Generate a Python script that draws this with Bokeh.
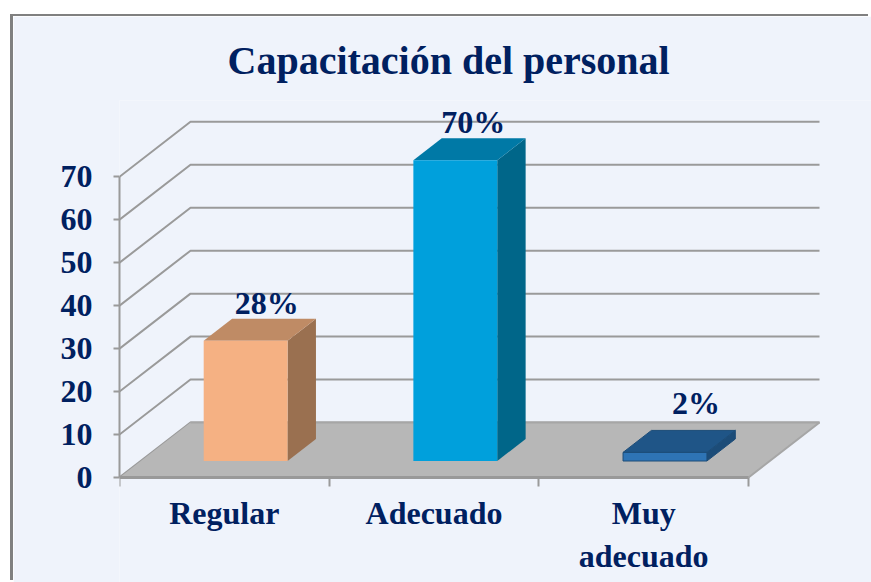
from bokeh.plotting import figure
from bokeh.models import FixedTicker, Range1d, Title
from bokeh.core.properties import value
from bokeh.embed import file_html
from bokeh.resources import INLINE

# ---- data ----
categories = ["Regular", "Adecuado", "Muy\nadecuado"]
values = [28, 70, 2]
labels = ["28%", "70%", "2%"]
y_ticks = [0, 10, 20, 30, 40, 50, 60, 70]
title_text = "Capacitación del personal"

# ---- style ----
BG = "#EFF3FB"
NAVY = "#002060"
GRID = "#9A9A9A"
FLOOR = "#B7B7B7"
FRONT = ["#F5B183", "#00A0DC", "#2E74B5"]
TOP = ["#BF8B65", "#0079A6", "#1F5587"]
SIDE = ["#9A7050", "#006689", "#1C4C78"]
FONT = "Liberation Serif"

# oblique depth of the box, in data units
DX, DY = 0.3386, 12.8
BAR_W = 0.4
D0, D1 = 0.3, 0.7
n = len(categories)

p = figure(
    width=858, height=566, frame_width=752, frame_height=482, output_backend="svg", toolbar_location=None,
    x_range=Range1d(0, 752 / 209.67), y_range=Range1d(-105 / 4.296, 377 / 4.296),
    min_border_left=106, min_border_right=0, min_border_bottom=0, min_border_top=84,
    background_fill_color=BG, border_fill_color=BG, outline_line_color=None,
    margin=(16, 0, 0, 13),
)
p.styles = {"box-shadow": "-3px -2px 0 0 #808080"}
p.grid.visible = False

p.add_layout(Title(text=title_text, align="left", offset=108, standoff=35,
                   text_font=FONT, text_font_size="40px", text_font_style="bold",
                   text_color=NAVY), "above")

# back wall lines
p.multi_line(
    xs=[[0, DX, n + DX] for _ in y_ticks],
    ys=[[t, t + DY, t + DY] for t in y_ticks],
    line_color=GRID, line_width=2,
)
# floor
p.patch([0, n, n + DX, DX], [0, 0, DY, DY], fill_color=FLOOR, line_color=None)
p.line([n, n + DX, DX], [0, DY, DY], line_color="#A6A6A6", line_width=2)

# bars
for i, v in enumerate(values):
    x0 = i + 0.5 - BAR_W / 2 + D0 * DX
    x1 = x0 + BAR_W
    yb = D0 * DY
    yt = yb + v
    dx = (D1 - D0) * DX
    dy = (D1 - D0) * DY
    edge = SIDE[i] if i == 2 else None
    p.patch([x1, x1 + dx, x1 + dx, x1], [yb, yb + dy, yt + dy, yt], fill_color=SIDE[i], line_color=edge)
    p.patch([x0, x1, x1 + dx, x0 + dx], [yt, yt, yt + dy, yt + dy], fill_color=TOP[i], line_color=edge)
    p.patch([x0, x1, x1, x0], [yb, yb, yt, yt], fill_color=FRONT[i], line_color=edge)

# data labels
label_dx = [21, 18, 31]
label_dy = [-16, -16, -27]
for i, v in enumerate(values):
    p.text(
        x=[i + 0.5 + D0 * DX], y=[D1 * DY + v], text=[labels[i]],
        x_offset=[label_dx[i]], y_offset=[label_dy[i]],
        text_font=value(FONT), text_font_size="32px", text_font_style="bold",
        text_color=NAVY, text_align="center", text_baseline="alphabetic",
    )

# axes
ya = p.yaxis[0]
ya.ticker = FixedTicker(ticks=y_ticks)
ya.bounds = (0, 70)
ya.major_tick_out = 6
ya.major_tick_in = 0
ya.minor_tick_out = 0
ya.minor_tick_in = 0
ya.major_label_standoff = 21
ya.axis_line_color = GRID
ya.axis_line_width = 2
ya.major_tick_line_color = GRID
ya.major_tick_line_width = 2

xa = p.xaxis[0]
xa.fixed_location = 0
xa.ticker = FixedTicker(ticks=[i + 0.5 for i in range(n)], minor_ticks=list(range(n + 1)))
xa.major_label_overrides = {i + 0.5: c for i, c in enumerate(categories)}
xa.bounds = (0, n)
xa.major_tick_out = 0
xa.major_tick_in = 0
xa.minor_tick_out = 9
xa.minor_tick_in = 0
xa.major_label_standoff = 8
xa.axis_line_color = "#999999"
xa.axis_line_width = 3
xa.minor_tick_line_color = GRID
xa.minor_tick_line_width = 2

for a in (xa, ya):
    a.major_label_text_font = FONT
    a.major_label_text_font_size = "32px"
    a.major_label_text_font_style = "bold"
    a.major_label_text_color = NAVY

open("out.html", "w").write(file_html(p, INLINE))
